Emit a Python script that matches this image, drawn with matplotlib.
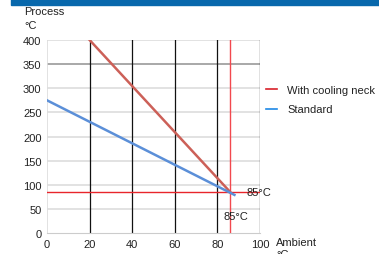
import matplotlib.pyplot as plt
from matplotlib.lines import Line2D
from matplotlib.patches import Rectangle

plt.rcParams['font.family'] = ['Liberation Sans', 'DejaVu Sans']

# data
ambient_neck = [20, 86]
process_neck = [400, 85]
ambient_std = [0, 88]
process_std = [275, 79]
limit_ambient = 86
limit_process = 85
x_ticks = [0, 20, 40, 60, 80, 100]
y_ticks = [0, 50, 100, 150, 200, 250, 300, 350, 400]
legend_labels = ['With cooling neck', 'Standard']

W, H = 379, 255
fig = plt.figure(figsize=(W / 100, H / 100), dpi=100)

# blue header strip
fig.patches.append(Rectangle((11 / W, 1 - 6 / H), 1, 6 / H, transform=fig.transFigure,
                             color='#0868ac', zorder=0))

ax = fig.add_axes([47 / W, 21 / H, 213 / W, 193 / H])
ax.set_xlim(0, 100)
ax.set_ylim(0, 400)

for y in y_ticks[1:]:
    c = '#9a9a9a' if y == 350 else '#dddddd'
    ax.axhline(y, color=c, lw=1.2, zorder=1)
ax.axvline(0, color='#dddddd', lw=1.2, zorder=1)
for x in x_ticks[1:]:
    ax.axvline(x, color='#111111', lw=0.9, zorder=2)

ax.axhline(limit_process, color='#e8252b', lw=1.0, zorder=3)
ax.axvline(limit_ambient, color='#f2484e', lw=1.0, zorder=3)

ax.plot(ambient_neck, process_neck, color='#cc6058', lw=1.8, zorder=4)
ax.plot(ambient_std, process_std, color='#5b8fd8', lw=1.8, zorder=4)

for s in ['top', 'right', 'left']:
    ax.spines[s].set_visible(False)
ax.spines['bottom'].set_color('#cccccc')
ax.set_xticks(x_ticks)
ax.set_yticks(y_ticks)
ax.tick_params(length=0, labelsize=8, colors='#222222', pad=4)

ax.text(93.8, 84, '85°C', fontsize=8, va='center', color='#222222')
ax.text(88.7, 35, '85°C', fontsize=8, ha='center', va='center', color='#222222')

fig.text(24 / W, 1 - 12 / H, 'Process', fontsize=8, va='center', color='#222222')
fig.text(24 / W, 1 - 26 / H, '°C', fontsize=8, va='center', color='#222222')
fig.text(276 / W, 1 - 243 / H, 'Ambient', fontsize=8, va='center', color='#222222')
fig.text(276 / W, 1 - 255 / H, '°C', fontsize=8, va='center', color='#222222')

handles = [Line2D([], [], color='#d8202a', lw=1.2), Line2D([], [], color='#1e88e5', lw=1.2)]
fig.legend(handles, legend_labels, loc='upper left', bbox_to_anchor=(256 / W, 1 - 76 / H),
           frameon=False, fontsize=8, handlelength=1.0, handletextpad=0.9,
           labelspacing=0.85, labelcolor='#222222')

fig.savefig('out.png', dpi=100)
